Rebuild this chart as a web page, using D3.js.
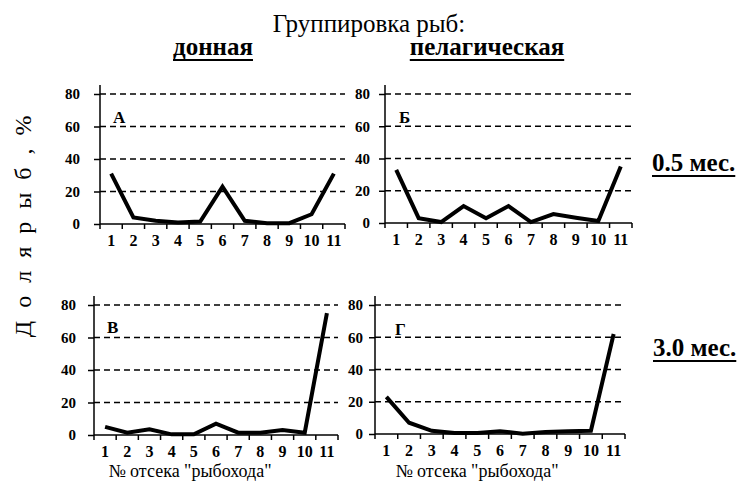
<!DOCTYPE html>
<html>
<head>
<meta charset="utf-8">
<script src="https://cdn.jsdelivr.net/npm/d3@7"></script>
</head>
<body style="margin:0">
<svg width="744" height="482"></svg>
<script>
// отсеки "рыбохода"
const categories = ["1", "2", "3", "4", "5", "6", "7", "8", "9", "10", "11"];
const yTicks = [0, 20, 40, 60, 80];

// доля рыб, %
const bottom05 = [31, 4, 2, 1, 1.5, 23, 2, 0.5, 0.5, 6, 31];
const pelagic05 = [33, 3, 0.6, 10.5, 3, 10.5, 0.6, 5.5, 3.3, 1.2, 35];
const bottom30 = [5, 1.4, 3.5, 0.4, 0.4, 7, 1.4, 1.4, 3, 1.4, 75];
const pelagic30 = [23, 7, 2, 0.6, 0.6, 1.7, 0.2, 1.2, 1.7, 2, 62];

const groupNames = ["донная", "пелагическая"];
const ageLabels = ["0.5 мес.", "3.0 мес."];
const xTitle = "№ отсека \"рыбохода\"";

const fams = ["Liberation Serif", "Times New Roman", "DejaVu Serif", "Noto Serif"];
const serif = fams.map(f => `"${f}"`).join(", ");
const svg = d3.select("svg").style("font-family", serif);
const ctx = document.createElement("canvas").getContext("2d");

// sets font on a text selection via inline style
function font(sel, size, weight) {
  return sel.style("font-family", serif)
    .style("font-size", size + "px")
    .style("font-weight", weight || "normal");
}

const panels = [
  { values: bottom05, letter: "А", x0: 100, x1: 345, top: 94, bottom: 224, gap: 20, lx: 113, ly: 123, title: false },
  { values: pelagic05, letter: "Б", x0: 385, x1: 632, top: 94, bottom: 223, gap: 15, lx: 399, ly: 123, title: false },
  { values: bottom30, letter: "В", x0: 94, x1: 338, top: 305, bottom: 435, gap: 18, lx: 107, ly: 333, title: true, tx: 190 },
  { values: pelagic30, letter: "Г", x0: 375, x1: 625, top: 305, bottom: 434, gap: 12, lx: 395, ly: 335, title: true, tx: 477 }
];

panels.forEach(p => {
  const x = d3.scaleBand().domain(categories).range([p.x0, p.x1]);
  const y = d3.scaleLinear().domain([0, 80]).range([p.bottom, p.top]);
  const g = svg.append("g");

  // dashed grid
  g.selectAll(".grid")
    .data(yTicks.filter(v => v > 0))
    .enter().append("line")
      .attr("x1", p.x0).attr("x2", p.x1)
      .attr("y1", d => y(d)).attr("y2", d => y(d))
      .attr("stroke", "#000")
      .attr("stroke-width", 1.5)
      .attr("stroke-dasharray", "6,4");

  // y axis
  const ya = g.append("g")
    .attr("transform", `translate(${p.x0},0)`)
    .call(d3.axisLeft(y).tickValues(yTicks).tickSize(6).tickPadding(p.gap - 6));
  ya.select(".domain").remove();
  ya.attr("font-family", null).attr("font-size", null);
  ya.selectAll("line").attr("stroke-width", 1.5);
  font(ya.selectAll("text"), 15, "bold");

  // x axis labels
  const xa = g.append("g")
    .attr("transform", `translate(0,${p.bottom})`)
    .call(d3.axisBottom(x).tickSize(0).tickPadding(11));
  xa.select(".domain").remove();
  xa.attr("font-family", null).attr("font-size", null);
  font(xa.selectAll("text"), 16, "bold");

  // ticks at band edges
  g.selectAll(".edge")
    .data(categories.map(c => x(c)).concat([p.x1]))
    .enter().append("line")
      .attr("x1", d => d).attr("x2", d => d)
      .attr("y1", p.bottom).attr("y2", p.bottom + 5)
      .attr("stroke", "#000").attr("stroke-width", 1.5);

  // axis lines
  g.append("line")
    .attr("x1", p.x0).attr("x2", p.x0)
    .attr("y1", p.top - 9).attr("y2", p.bottom)
    .attr("stroke", "#000").attr("stroke-width", 1.5);
  g.append("line")
    .attr("x1", p.x0).attr("x2", p.x1)
    .attr("y1", p.bottom).attr("y2", p.bottom)
    .attr("stroke", "#000").attr("stroke-width", 1.5);

  // data line
  const line = d3.line()
    .x((d, i) => x(categories[i]) + x.bandwidth() / 2)
    .y(d => y(d));
  g.append("path")
    .datum(p.values)
    .attr("d", line)
    .attr("fill", "none")
    .attr("stroke", "#000")
    .attr("stroke-width", 4)
    .attr("stroke-linejoin", "miter");

  font(g.append("text"), 17, "bold")
    .attr("x", p.lx).attr("y", p.ly)
    .text(p.letter);

  if (p.title) {
    font(g.append("text"), 18)
      .attr("x", p.tx).attr("y", 477)
      .attr("text-anchor", "middle")
      .text(xTitle);
  }
});

// header
font(svg.append("text"), 25)
  .attr("x", 369).attr("y", 32)
  .attr("text-anchor", "middle")
  .text("Группировка рыб:");

function underlined(txt, x, y, anchor, size) {
  font(svg.append("text"), size, "bold")
    .attr("x", x).attr("y", y)
    .attr("text-anchor", anchor)
    .text(txt);
  ctx.font = `bold ${size}px ${serif}`;
  const w = ctx.measureText(txt).width;
  const left = anchor === "middle" ? x - w / 2 : x;
  svg.append("line")
    .attr("x1", left).attr("x2", left + w)
    .attr("y1", y + 5).attr("y2", y + 5)
    .attr("stroke", "#000").attr("stroke-width", 2);
}

underlined(groupNames[0], 213, 55, "middle", 25);
underlined(groupNames[1], 487, 55, "middle", 25);
underlined(ageLabels[0], 652, 171, "start", 25);
underlined(ageLabels[1], 653, 356, "start", 25);

// y axis title
font(svg.append("text"), 24)
  .attr("transform", "translate(31,112) rotate(-90)")
  .attr("text-anchor", "end")
  .style("letter-spacing", "3.5px")
  .text("Д о л я   р ы б ,   %");
</script>
</body>
</html>
